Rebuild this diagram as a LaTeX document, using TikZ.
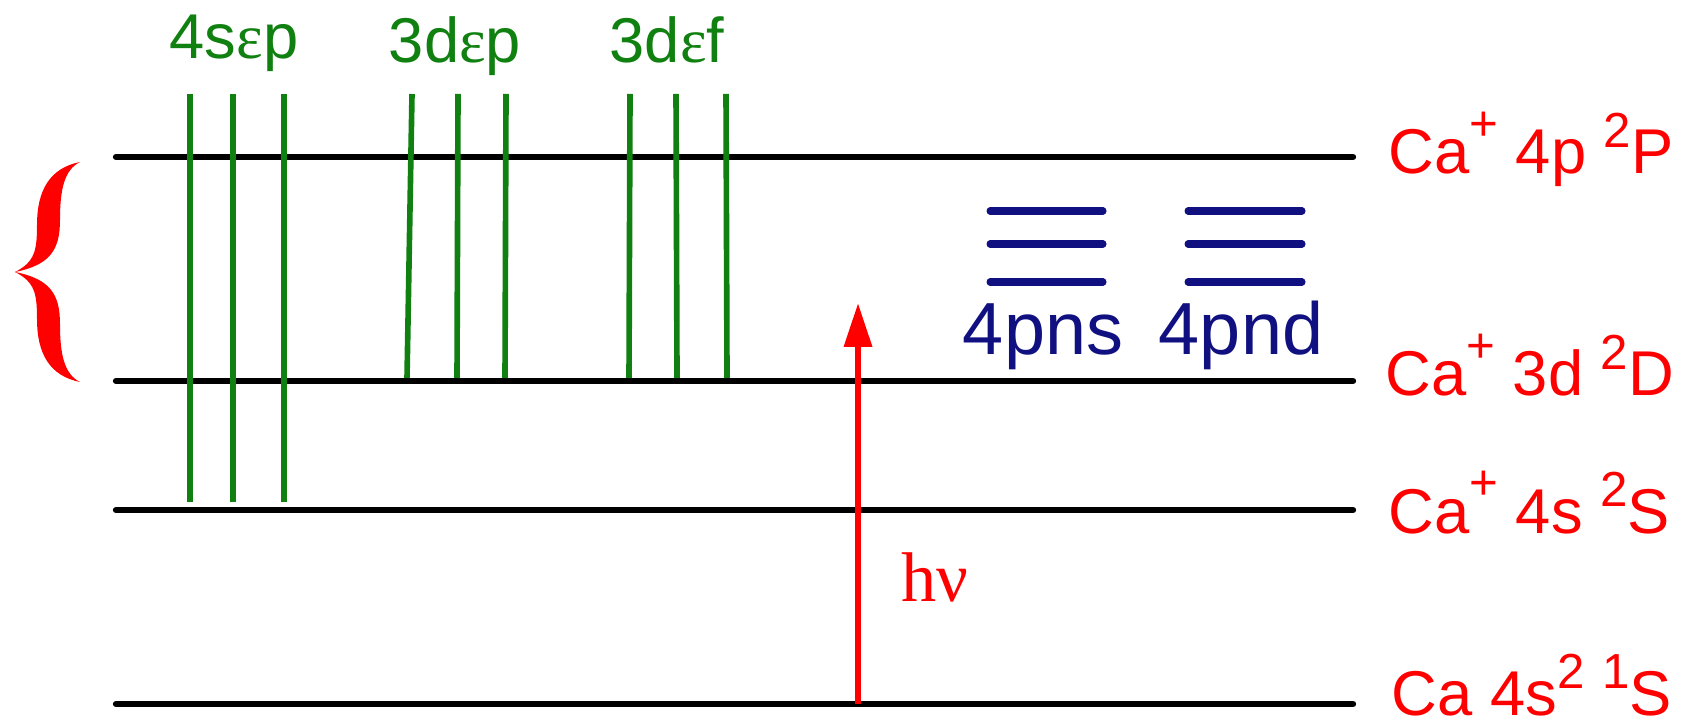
\documentclass[tikz,border=0pt]{standalone}
\usepackage{fontspec}
\setmainfont{Liberation Sans}
\newfontfamily\serf{Liberation Serif}
\usetikzlibrary{arrows.meta}
\definecolor{lvgreen}{RGB}{16,128,16}
\definecolor{lvblue}{RGB}{16,16,128}
\definecolor{lvred}{RGB}{255,0,0}
\newcommand\upr[2]{\raisebox{#1}{\fontsize{14}{14}\selectfont #2}}
\begin{document}
\begin{tikzpicture}[x=0.01cm,y=-0.01cm,
  level/.style={line width=1.8pt,line cap=round,black},
  cont/.style={line width=1.6pt,lvgreen},
  ryd/.style={line width=2pt,line cap=round,lvblue},
  rlab/.style={anchor=base west,inner sep=0pt,text depth=0pt,text=lvred,font=\fontsize{18}{18}\selectfont},
  glab/.style={anchor=base,inner sep=0pt,text=lvgreen,font=\fontsize{18}{18}\selectfont},
  blab/.style={anchor=base,inner sep=0pt,text=lvblue,font=\fontsize{21}{21}\selectfont},
  photon/.style={line width=1.8pt,lvred,-{Triangle[length=12.5pt,width=7.7pt]}}]
\useasboundingbox (0,0) rectangle (1686,725);
% levels
\foreach \n/\y in {a/157,b/381,c/510,d/704}{
  \coordinate (\n L) at (116,\y);
  \coordinate (\n R) at (1353,\y);
  \draw[level] (\n L) -- (\n R);
}
% labels
\node[rlab] (labA) at (1388,174) {Ca\upr{9.5pt}{+} 4p \upr{7.5pt}{2}P};
\node[rlab] (labB) at (1385,396) {Ca\upr{9.5pt}{+} 3d \upr{7.5pt}{2}D};
\node[rlab] (labC) at (1388,533) {Ca\upr{9.5pt}{+} 4s \upr{7.5pt}{2}S};
\node[rlab] (labD) at (1391,715) {Ca 4s\upr{7.5pt}{2} \upr{7.5pt}{1}S};
% continua
\foreach \i/\x in {1/190,2/233,3/284}{
  \coordinate (g\i t) at (\x,94);
  \coordinate (g\i b) at (\x,502);
  \draw[cont] (g\i t) -- (g\i b);
}
\foreach \i/\xt/\xb in {4/412/407,5/458/457,6/506/505,7/630/629,8/676/677,9/726/727}{
  \coordinate (g\i t) at (\xt,94);
  \coordinate (g\i b) at (\xb,378);
  \draw[cont] (g\i t) -- (g\i b);
}
\node[glab] (c1) at (234,59) {4s{\serf ε}p};
\node[glab] (c2) at (455,63) {3d{\serf ε}p};
\node[glab] (c3) at (667,63) {3d{\serf ε}f};
% Rydberg series
\foreach \y [count=\k] in {211,244,282}{
  \coordinate (sL\k) at (990,\y);  \coordinate (sR\k) at (1103,\y);
  \coordinate (dL\k) at (1188,\y); \coordinate (dR\k) at (1302,\y);
  \draw[ryd] (sL\k) -- (sR\k);
  \draw[ryd] (dL\k) -- (dR\k);
}
\node[blab] (ns) at (1043,355) {4pns};
\node[blab] (nd) at (1241,355) {4pnd};
% photon
\coordinate (hvbot) at (858,704);
\coordinate (hvtop) at (858,303);
\draw[photon] (hvbot) -- (hvtop);
\node[anchor=base west,inner sep=0pt,text=lvred,font=\serf\fontsize{20}{20}\selectfont] (hv) at (901,601) {hν};
% brace
\fill[lvred] (15,272) .. controls (35,262) and (37,250) .. (37,225)
  .. controls (37,190) and (50,168) .. (80,162)
  .. controls (64,170) and (60,190) .. (60,220)
  .. controls (60,250) and (50,265) .. (15,272)
  .. controls (50,279) and (60,294) .. (60,324)
  .. controls (60,354) and (64,374) .. (80,382)
  .. controls (50,376) and (37,354) .. (37,319)
  .. controls (37,294) and (35,282) .. (15,272) -- cycle;
\end{tikzpicture}
\end{document}
